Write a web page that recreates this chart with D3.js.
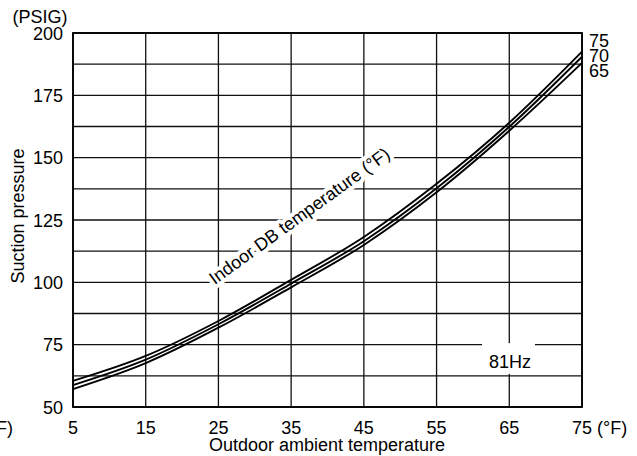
<!DOCTYPE html>
<html>
<head>
<meta charset="utf-8">
<script src="https://cdn.jsdelivr.net/npm/d3@7"></script>
<style>
  body { margin: 0; background: #fff; }
  svg text { font-family: "Liberation Sans", Arial, sans-serif; fill: #000; }
</style>
</head>
<body>
<div id="chart"></div>
<script>
// outdoor ambient temp (F) vs suction pressure (PSIG), one curve per indoor DB temp
var outdoorTemp = [5, 15, 25, 35, 45, 55, 65, 75];
var indoor75 = [60.5, 70.5, 84.5, 101, 118.2, 139.5, 164, 192.5];
var indoor70 = [58.8, 69, 83.2, 99.5, 116.5, 137.7, 162.4, 190.5];
var indoor65 = [57.2, 67.6, 81.8, 98, 115, 136.1, 160.8, 188];
var curveNames = ["75", "70", "65"];
var xTicks = [5, 15, 25, 35, 45, 55, 65, 75];
var yTicks = [50, 75, 100, 125, 150, 175, 200];
var yGrid = [50, 62.5, 75, 87.5, 100, 112.5, 125, 137.5, 150, 162.5, 175, 187.5, 200];

function drawChart(){
    var W = 637, H = 456;
    var pL = 73, pR = 582, pT = 33, pB = 407;

    var svg = d3.select("#chart").append("svg").attr("width", W).attr("height", H);

    var x = d3.scaleLinear().domain([5, 75]).range([pL, pR]);
    var y = d3.scaleLinear().domain([50, 200]).range([pB, pT]);

    // grid
    svg.append("g").selectAll("line").data(yGrid).enter().append("line")
        .attr("x1", pL).attr("x2", pR)
        .attr("y1", function(d){ return y(d); }).attr("y2", function(d){ return y(d); })
        .attr("stroke", "#111").attr("stroke-width", 1.3);
    svg.append("g").selectAll("line").data(xTicks).enter().append("line")
        .attr("y1", pT).attr("y2", pB)
        .attr("x1", function(d){ return x(d); }).attr("x2", function(d){ return x(d); })
        .attr("stroke", "#111").attr("stroke-width", 1.3);

    // 81Hz box blanks the grid between 75 and 62.5
    svg.append("rect")
        .attr("x", 482).attr("y", y(75) - 1.5)
        .attr("width", 53).attr("height", y(62.5) - y(75) - 0.5)
        .attr("fill", "#fff");
    svg.append("text")
        .attr("x", 510).attr("y", 368)
        .attr("text-anchor", "middle")
        .attr("font-size", 18)
        .text("81Hz");

    // frame
    svg.append("rect")
        .attr("x", pL).attr("y", pT)
        .attr("width", pR - pL).attr("height", pB - pT)
        .attr("fill", "none").attr("stroke", "#000").attr("stroke-width", 1.8);

    // curves
    var series = [indoor75, indoor70, indoor65];
    var line = d3.line()
        .x(function(d, i){ return x(outdoorTemp[i]); })
        .y(function(d){ return y(d); })
        .curve(d3.curveMonotoneX);
    for (var s = 0; s < series.length; s++) {
        svg.append("path")
            .attr("d", line(series[s]))
            .attr("fill", "none")
            .attr("stroke", "#000")
            .attr("stroke-width", 1.9);
    }

    // labels at right end of curves
    for (var s = 0; s < curveNames.length; s++) {
        svg.append("text")
            .attr("x", 589).attr("y", 46.5 + s * 15)
            .attr("font-size", 18)
            .text(curveNames[s]);
    }

    // rotated curve label, white halo cuts the grid
    svg.append("text")
        .attr("transform", "translate(303,221) rotate(-36)")
        .attr("text-anchor", "middle")
        .attr("font-size", 18)
        .attr("stroke", "#fff").attr("stroke-width", 8)
        .attr("paint-order", "stroke")
        .style("stroke-linejoin", "round")
        .text("Indoor DB temperature (\u00B0F)");

    // y tick labels
    svg.append("g").selectAll("text").data(yTicks).enter().append("text")
        .attr("x", 63).attr("y", function(d){ return y(d) + 6.5; })
        .attr("text-anchor", "end")
        .attr("font-size", 18)
        .text(function(d){ return d; });

    svg.append("text")
        .attr("x", 40).attr("y", 23)
        .attr("text-anchor", "middle")
        .attr("font-size", 18)
        .text("(PSIG)");

    // x tick labels
    svg.append("g").selectAll("text").data(xTicks).enter().append("text")
        .attr("x", function(d){ return x(d); }).attr("y", 433.5)
        .attr("text-anchor", "middle")
        .attr("font-size", 18)
        .text(function(d){ return d; });

    svg.append("text")
        .attr("x", 597).attr("y", 433.5)
        .attr("font-size", 18)
        .text("(\u00B0F)");
    svg.append("text")
        .attr("x", 13).attr("y", 433.5)
        .attr("text-anchor", "end")
        .attr("font-size", 18)
        .text("(\u00B0F)");

    // axis titles
    svg.append("text")
        .attr("x", 327).attr("y", 451)
        .attr("text-anchor", "middle")
        .attr("font-size", 18)
        .text("Outdoor ambient temperature");
    svg.append("text")
        .attr("transform", "translate(24,216) rotate(-90)")
        .attr("text-anchor", "middle")
        .attr("font-size", 18)
        .text("Suction pressure");
}

drawChart();
</script>
</body>
</html>
